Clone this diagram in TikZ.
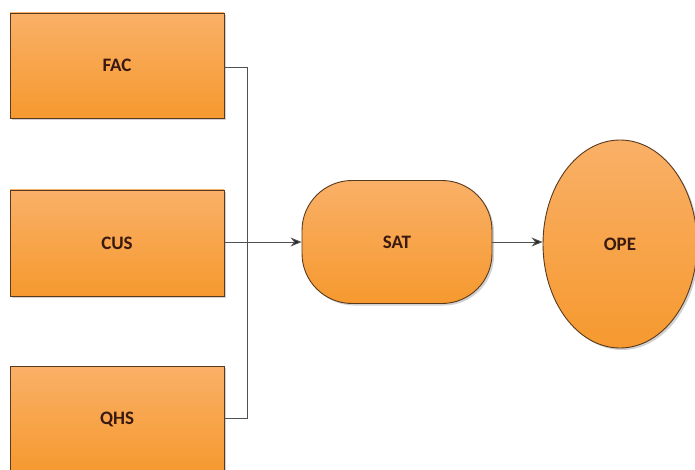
\documentclass[tikz,border=0pt]{standalone}
\usepackage{fontspec}
\setmainfont{Carlito}
\usetikzlibrary{shapes.geometric,arrows.meta,shadows}
\definecolor{otop}{HTML}{F9B067}
\definecolor{obot}{HTML}{F6992F}
\definecolor{oedge}{HTML}{5A3A1E}
\definecolor{otext}{HTML}{3A1A10}
\definecolor{lineg}{HTML}{505050}
\tikzset{
  obox/.style={draw=oedge, line width=0.9pt, top color=otop, bottom color=obot,
    drop shadow={shadow xshift=2pt, shadow yshift=-2pt, fill=black!30, opacity=0.6},
    font=\fontsize{19}{22}\selectfont\bfseries, text=otext, inner sep=0pt},
  conn/.style={draw=lineg, line width=0.9pt},
  arr/.style={conn, -{Stealth[length=11pt,width=9pt,fill=black!85]}}
}
\begin{document}
\begin{tikzpicture}[x=1pt,y=-1pt]
\useasboundingbox (0,0) rectangle (695,470);
\node[obox, rectangle, minimum width=214pt, minimum height=105pt] (fac) at (117,65.5) {FAC};
\node[obox, rectangle, minimum width=214pt, minimum height=106pt] (cus) at (117,243) {CUS};
\node[obox, rectangle, minimum width=214pt, minimum height=106pt, anchor=north] (qhs) at (117,366) {QHS};
\node[obox, rounded corners=50pt, minimum width=190pt, minimum height=123pt] (sat) at (397,242) {SAT};
\node[obox, ellipse, minimum width=154pt, minimum height=208pt] (ope) at (620,244) {OPE};
\coordinate (bus) at (247,242);
\draw[conn] (fac.east |- 0,67) -| (bus);
\draw[conn] (qhs.east |- 0,418) -| (bus);
\draw[arr] (cus.east |- 0,242) -- (sat.west |- 0,242);
\draw[arr] (sat.east |- 0,242) -- (ope.west |- 0,242);
\end{tikzpicture}
\end{document}
